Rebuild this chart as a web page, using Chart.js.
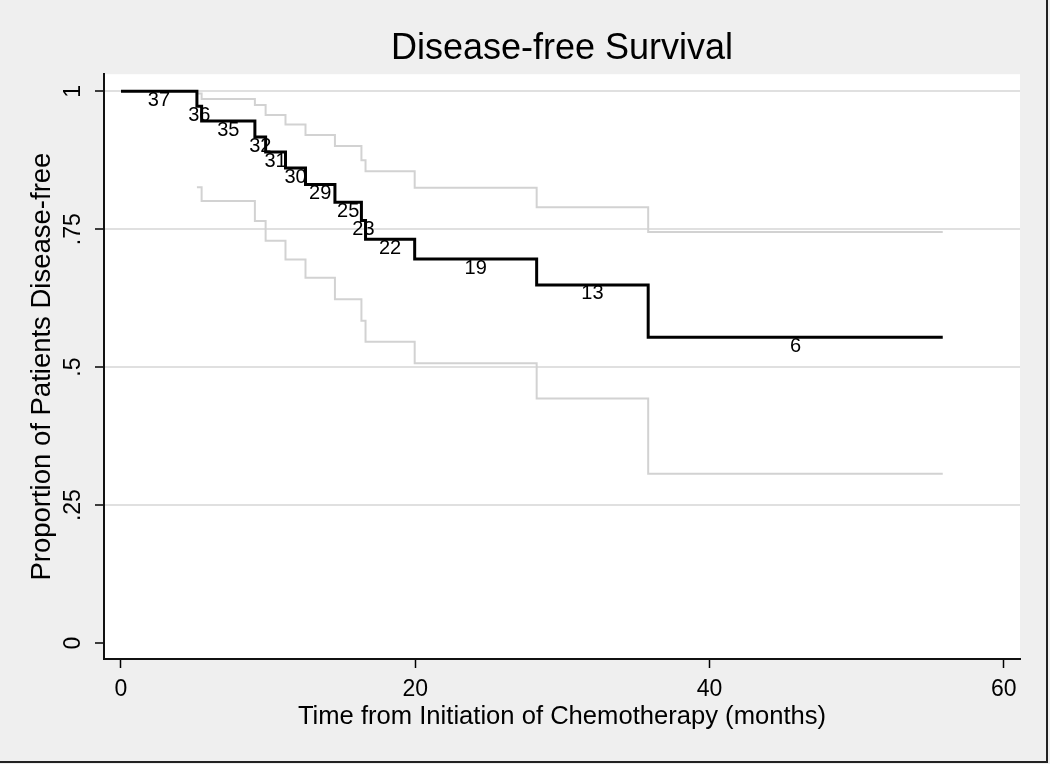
<!DOCTYPE html>
<html>
<head>
<meta charset="utf-8">
<title>Disease-free Survival</title>
<script src="https://cdn.jsdelivr.net/npm/chart.js@4.4.1/dist/chart.umd.min.js"></script>
<style>
    html, body { margin: 0; padding: 0; background: #efefef; }
    canvas { display: block; }
</style>
</head>
<body>
<canvas id="kmChart" width="1050" height="764"></canvas>
<script>
// Kaplan-Meier estimate (months, proportion disease-free)
const kmTimes = [0, 5.16, 5.48, 9.10, 9.83, 11.18, 12.54, 14.54, 16.34, 16.62, 19.96, 28.25, 35.83, 55.85];
const kmSurv  = [1, 0.973, 0.946, 0.917, 0.890, 0.861, 0.831, 0.799, 0.766, 0.732, 0.696, 0.649, 0.554, 0.554];

// number at risk printed on each step of the curve
const atRisk = [37, 36, 35, 32, 31, 30, 29, 25, 23, 22, 19, 13, 6];

// pointwise 95% confidence band
const ciTimes = [5.16, 5.48, 9.10, 9.83, 11.18, 12.54, 14.54, 16.34, 16.62, 19.96, 28.25, 35.83, 55.85];
const ciUpper = [0.996, 0.986, 0.975, 0.957, 0.940, 0.921, 0.901, 0.875, 0.855, 0.825, 0.790, 0.745, 0.745];
const ciLower = [0.826, 0.801, 0.765, 0.729, 0.695, 0.662, 0.623, 0.584, 0.546, 0.507, 0.443, 0.307, 0.307];

const xTickValues = [0, 20, 40, 60];
const xTickLabels = ['0', '20', '40', '60'];
const yTickValues = [0, 0.25, 0.5, 0.75, 1];
const yTickLabels = ['0', '.25', '.5', '.75', '1'];

const FONT = "'Liberation Sans', Arial, Helvetica, sans-serif";

function toPoints(xs, ys) {
    return xs.map((x, i) => ({x: x, y: ys[i]}));
}

const backgroundPlugin = {
    id: 'background',
    beforeDraw(chart) {
        const {ctx, chartArea} = chart;
        ctx.save();
        ctx.fillStyle = '#efefef';
        ctx.fillRect(0, 0, chart.width, chart.height);
        ctx.fillStyle = '#ffffff';
        ctx.fillRect(chartArea.left, chartArea.top, chartArea.right - chartArea.left, chartArea.bottom - chartArea.top);
        ctx.restore();
    }
};

const atRiskPlugin = {
    id: 'atRisk',
    afterDatasetsDraw(chart) {
        const {ctx, scales} = chart;
        ctx.save();
        ctx.font = '20px ' + FONT;
        ctx.fillStyle = '#000';
        ctx.textAlign = 'center';
        ctx.textBaseline = 'middle';
        for (let i = 0; i < atRisk.length; i++) {
            const mid = (kmTimes[i] + kmTimes[i + 1]) / 2;
            const px = scales.x.getPixelForValue(mid);
            const py = scales.y.getPixelForValue(kmSurv[i]);
            ctx.fillText(String(atRisk[i]), px, py + 9);
        }
        ctx.restore();
    }
};

const framePlugin = {
    id: 'frame',
    afterDraw(chart) {
        const ctx = chart.ctx;
        ctx.save();
        ctx.strokeStyle = '#222';
        ctx.lineWidth = 2;
        ctx.beginPath();
        ctx.moveTo(chart.width - 3, 0);
        ctx.lineTo(chart.width - 3, chart.height - 2);
        ctx.lineTo(0, chart.height - 2);
        ctx.stroke();
        ctx.restore();
    }
};

const ctx = document.getElementById('kmChart').getContext('2d');
const chart = new Chart(ctx, {
    type: 'line',
    data: {
        datasets: [
            {
                label: 'Kaplan-Meier',
                data: toPoints(kmTimes, kmSurv),
                borderColor: '#000',
                borderWidth: 3,
                stepped: 'before',
                pointRadius: 0
            },
            {
                label: 'Upper 95% CI',
                data: toPoints(ciTimes, ciUpper),
                borderColor: '#d2d2d2',
                borderWidth: 2,
                stepped: 'before',
                pointRadius: 0
            },
            {
                label: 'Lower 95% CI',
                data: toPoints(ciTimes, ciLower),
                borderColor: '#d2d2d2',
                borderWidth: 2,
                stepped: 'before',
                pointRadius: 0
            }
        ]
    },
    options: {
        responsive: false,
        animation: false,
        layout: { padding: { left: 0, right: 30, top: 0, bottom: 0 } },
        plugins: {
            legend: { display: false },
            tooltip: { enabled: false },
            title: {
                display: true,
                fullSize: false,
                text: 'Disease-free Survival',
                color: '#000',
                font: { family: FONT, size: 36, weight: 'normal' },
                padding: { top: 27, bottom: 4 }
            }
        },
        scales: {
            x: {
                type: 'linear',
                min: -1.155,
                max: 61.1,
                afterBuildTicks: (scale) => { scale.ticks = xTickValues.map(v => ({value: v})); },
                afterFit: (scale) => { scale.height = 105; },
                ticks: {
                    color: '#000',
                    padding: 8,
                    font: { family: FONT, size: 23 },
                    callback: (value, index) => xTickLabels[index]
                },
                grid: {
                    drawOnChartArea: false,
                    drawTicks: true,
                    tickLength: 9,
                    tickColor: '#000',
                    tickWidth: 1.5
                },
                border: { color: '#111', width: 2 },
                title: {
                    display: true,
                    text: 'Time from Initiation of Chemotherapy (months)',
                    color: '#000',
                    font: { family: FONT, size: 25.6 },
                    padding: { top: 0, bottom: 32 }
                }
            },
            y: {
                type: 'linear',
                min: -0.029,
                max: 1.031,
                afterBuildTicks: (scale) => { scale.ticks = yTickValues.map(v => ({value: v})); },
                afterFit: (scale) => { scale.width = 104; },
                ticks: {
                    color: '#000',
                    minRotation: 90,
                    maxRotation: 90,
                    crossAlign: 'center',
                    padding: 5,
                    font: { family: FONT, size: 23 },
                    callback: (value, index) => yTickLabels[index]
                },
                grid: {
                    color: (c) => (c.tick && c.tick.value === 0) ? 'rgba(0,0,0,0)' : '#e0e0e0',
                    lineWidth: 2,
                    drawTicks: true,
                    tickLength: 9,
                    tickColor: '#000',
                    tickWidth: 1.5
                },
                border: { color: '#111', width: 2 },
                title: {
                    display: true,
                    text: 'Proportion of Patients Disease-free',
                    color: '#000',
                    font: { family: FONT, size: 27.5 },
                    padding: { top: 26, bottom: 0 }
                }
            }
        }
    },
    plugins: [backgroundPlugin, atRiskPlugin, framePlugin]
});
</script>
</body>
</html>
